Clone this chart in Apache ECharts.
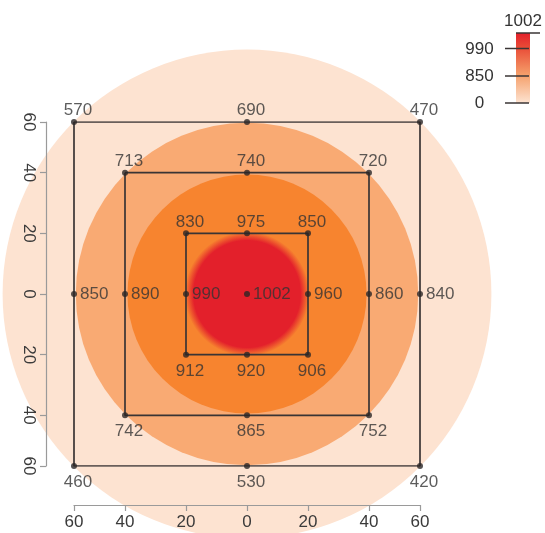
<!DOCTYPE html>
<html><head><meta charset="utf-8">
<script src="https://cdn.jsdelivr.net/npm/echarts@6/dist/echarts.min.js"></script>
<style>html,body{margin:0;padding:0;background:#fff}#c{width:545px;height:533px}</style>
</head><body><div id="c"></div>
<script>
// ---- data ----
const axisTicks = [-60, -40, -20, 0, 20, 40, 60];
const squareHalf = [60, 40, 20];
const pointX = [-60, 0, 60, 60, 60, 0, -60, -60,  -40, 0, 40, 40, 40, 0, -40, -40,  -20, 0, 20, 20, 20, 0, -20, -20,  0];
const pointY = [60, 60, 60, 0, -60, -60, -60, 0,  40, 40, 40, 0, -40, -40, -40, 0,  20, 20, 20, 0, -20, -20, -20, 0,  0];
const pointValue = [570, 690, 470, 840, 420, 530, 460, 850,  713, 740, 720, 860, 752, 865, 742, 890,  830, 975, 850, 960, 906, 920, 912, 990,  1002];
const bandRadius = [88, 59.3, 39.2, 20.4];
const legendTicks = [1002, 990, 850, 0];

// ---- styles ----
const bandColor = ['#FDE3D1', '#F9AA73', '#F7842F', '#E3202B'];
const FONT = '"Liberation Sans", Arial, sans-serif';
const TXT = '#333333';
const FS = 17;
const K = 51 / 61; // axis spacing between 40 and 60 is compressed in the original
function warp(v) { const a = Math.abs(v); return Math.sign(v) * (a <= 40 ? a : 40 + (a - 40) * K); }
function unwarp(w) { const a = Math.abs(w); return Math.sign(w) * (a <= 40 ? a : 40 + (a - 40) / K); }

const chart = echarts.init(document.getElementById('c'));

const axisCommon = (offset, rotate) => ({
  type: 'value', min: warp(-60), max: warp(60), offset: offset, z: 10,
  splitLine: { show: false },
  axisLine: { show: true, onZero: false, lineStyle: { color: '#9a9a9a', width: 1.2 } },
  axisTick: { show: true, customValues: axisTicks.map(warp), length: 6, inside: false, lineStyle: { color: '#9a9a9a', width: 1.2 } },
  axisLabel: { customValues: axisTicks.map(warp), rotate: rotate, margin: 9, fontSize: FS, color: '#3a3a3a', fontFamily: FONT,
    formatter: v => String(Math.abs(Math.round(unwarp(v)))) }
});

const lineSeries = squareHalf.map(h => ({
  type: 'line', z: 3, symbol: 'none', silent: true,
  lineStyle: { color: '#3A3434', width: 1.7 },
  data: [[-h, h], [h, h], [h, -h], [-h, -h], [-h, h]].map(p => [warp(p[0]), warp(p[1])])
}));

const scatterData = pointX.map((x, i) => {
  const y = pointY[i];
  const pos = y > 0 ? 'top' : (y < 0 ? 'bottom' : 'right');
  return {
    value: [warp(x), warp(y), pointValue[i]],
    label: {
      position: pos,
      distance: pos === 'top' ? 0 : (pos === 'bottom' ? 5 : 3),
      offset: pos === 'right' ? [0, 0] : [4, 0]
    }
  };
});

const red = bandColor[3];
const option = {
  animation: false,
  backgroundColor: '#fff',
  grid: { left: 74, right: 125, top: 122, bottom: 67, containLabel: false, outerBoundsMode: 'none' },
  xAxis: Object.assign(axisCommon(39, 0), { position: 'bottom' }),
  yAxis: Object.assign(axisCommon(28, -90), { position: 'left' }),
  series: [
    {
      type: 'custom', coordinateSystem: 'cartesian2d', z: 1, silent: true, clip: false,
      data: bandRadius.map((r, i) => [0, 0, r, i]),
      renderItem(params, api) {
        const c = api.coord([api.value(0), api.value(1)]);
        const e = api.coord([warp(api.value(2)), api.value(1)]);
        const r = Math.abs(e[0] - c[0]);
        const i = api.value(3);
        let fill = bandColor[i];
        if (i === bandColor.length - 1) {
          fill = new echarts.graphic.RadialGradient(0.5, 0.5, 0.5, [
            { offset: 0, color: red }, { offset: 0.86, color: red },
            { offset: 1, color: 'rgba(227,32,43,0)' }
          ]);
        }
        return { type: 'circle', shape: { cx: c[0], cy: c[1], r: r }, style: { fill: fill } };
      }
    },
    ...lineSeries,
    {
      type: 'scatter', z: 4, symbol: 'circle', symbolSize: 6, silent: true,
      itemStyle: { color: '#2B2626' },
      label: { show: true, fontSize: FS, color: TXT, fontFamily: FONT, formatter: p => String(p.value[2]) },
      data: scatterData
    }
  ],
  graphic: (function () {
    const tickY = [33, 48.5, 76, 103];
    const els = [{
      type: 'rect', shape: { x: 516, y: 33, width: 14, height: 70 }, z: 5,
      style: { fill: new echarts.graphic.LinearGradient(0, 0, 0, 1, [
        { offset: 0, color: '#E3202B' }, { offset: 0.2, color: '#E94A36' },
        { offset: 0.6, color: '#F5A06B' }, { offset: 1, color: '#FDE3D1' }]) }
    }];
    legendTicks.forEach((t, i) => {
      const y = tickY[i];
      if (i === 0) {
        els.push({ type: 'line', z: 6, shape: { x1: 516, y1: y, x2: 540, y2: y }, style: { stroke: '#3a3535', lineWidth: 1.5 } });
        els.push({ type: 'text', z: 6, x: 523, y: 21, style: { text: String(t), fontSize: FS, fontFamily: FONT, fill: TXT, align: 'center', verticalAlign: 'middle' } });
      } else {
        els.push({ type: 'line', z: 6, shape: { x1: 505, y1: y, x2: 529, y2: y }, style: { stroke: '#3a3535', lineWidth: 1.5 } });
        els.push({ type: 'text', z: 6, x: 479.5, y: y + 0.5, style: { text: String(t), fontSize: FS, fontFamily: FONT, fill: TXT, align: 'center', verticalAlign: 'middle' } });
      }
    });
    return els;
  })()
};
chart.setOption(option);
</script>
</body></html>
